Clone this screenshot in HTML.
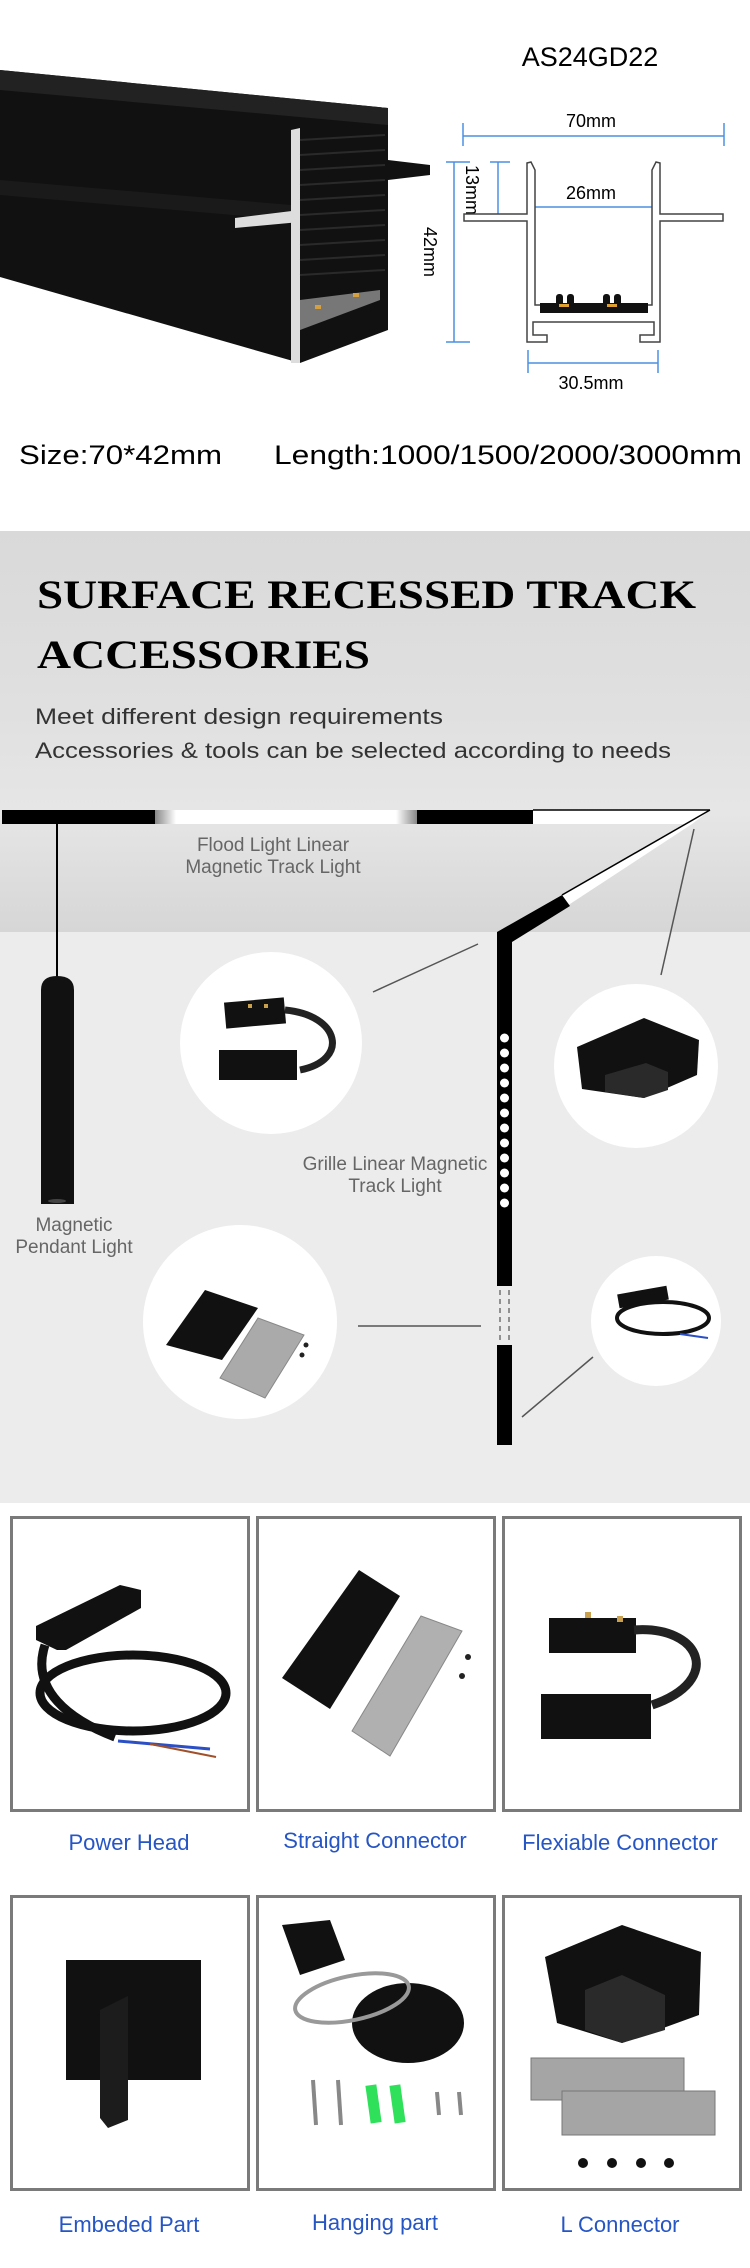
<!DOCTYPE html>
<html><head><meta charset="utf-8"><style>
html,body{margin:0;padding:0;background:#fff}
svg{display:block}
</style></head><body>
<svg width="750" height="2268" viewBox="0 0 750 2268" xmlns="http://www.w3.org/2000/svg" font-family="Liberation Sans, sans-serif">
<defs>
<linearGradient id="band" x1="0" y1="0" x2="0" y2="1">
<stop offset="0" stop-color="#d9d9d9"/><stop offset="0.45" stop-color="#e0e0e0"/><stop offset="0.7" stop-color="#e6e6e6"/><stop offset="1" stop-color="#d6d6d6"/>
</linearGradient>
<linearGradient id="glow" x1="0" y1="0" x2="1" y2="0">
<stop offset="0" stop-color="#888"/><stop offset="0.08" stop-color="#fff"/><stop offset="0.92" stop-color="#fff"/><stop offset="1" stop-color="#888"/>
</linearGradient>
</defs>
<rect width="750" height="2268" fill="#fff"/>

<!-- top: extrusion photo -->
<polygon points="0,70 388,108 388,330 300,363 0,277" fill="#111"/>
<polygon points="0,70 388,108 388,125 0,90" fill="#222"/>
<polygon points="0,180 291,205 291,220 0,195" fill="#1a1a1a"/>
<polygon points="291,130 300,128 300,363 291,363" fill="#ddd"/>
<g stroke="#2a2a2a" stroke-width="2">
<line x1="300" y1="140" x2="385" y2="135"/><line x1="300" y1="155" x2="385" y2="150"/><line x1="300" y1="170" x2="385" y2="165"/><line x1="300" y1="185" x2="385" y2="180"/><line x1="300" y1="200" x2="385" y2="195"/><line x1="300" y1="215" x2="385" y2="210"/><line x1="300" y1="230" x2="385" y2="225"/><line x1="300" y1="245" x2="385" y2="240"/><line x1="300" y1="260" x2="385" y2="255"/><line x1="300" y1="275" x2="385" y2="270"/>
</g>
<polygon points="388,160 430,165 430,175 388,180" fill="#111"/>
<polygon points="235,218 300,210 300,222 235,228" fill="#ddd"/>
<polygon points="300,300 380,290 380,300 300,330" fill="#777"/>
<rect x="315" y="305" width="6" height="4" fill="#d4a040"/><rect x="353" y="293" width="6" height="4" fill="#d4a040"/>

<!-- cross-section drawing -->
<text x="590" y="66" font-size="27" text-anchor="middle" fill="#000">AS24GD22</text>
<text x="591" y="127" font-size="18" text-anchor="middle" fill="#000">70mm</text>
<g stroke="#4a90e2" stroke-width="1.5" fill="none">
<line x1="463" y1="136" x2="724" y2="136"/><line x1="463" y1="123" x2="463" y2="146"/><line x1="724" y1="123" x2="724" y2="146"/>
<line x1="454" y1="162" x2="454" y2="342"/><line x1="446" y1="162" x2="470" y2="162"/><line x1="446" y1="342" x2="470" y2="342"/>
<line x1="498" y1="162" x2="498" y2="218"/><line x1="490" y1="162" x2="510" y2="162"/>
<line x1="535" y1="207" x2="652" y2="207"/>
<line x1="528" y1="363" x2="658" y2="363"/><line x1="528" y1="350" x2="528" y2="373"/><line x1="658" y1="350" x2="658" y2="373"/>
</g>
<text x="591" y="199" font-size="18" text-anchor="middle">26mm</text>
<text x="591" y="389" font-size="18" text-anchor="middle">30.5mm</text>
<text transform="translate(466,190) rotate(90)" font-size="18" text-anchor="middle">13mm</text>
<text transform="translate(424,252) rotate(90)" font-size="18" text-anchor="middle">42mm</text>
<path d="M464,214 L527,214 L527,163 L531,162 L535,170 L535,214 L535,221 L535,305 L652,305 L652,221 L652,170 L656,162 L660,163 L660,214 L723,214 L723,221 L660,221 L660,342 L640,342 L640,335 L654,335 L654,322 L533,322 L533,335 L547,335 L547,342 L527,342 L527,221 L464,221 Z" fill="#fff" stroke="#444" stroke-width="1.5"/>
<rect x="540" y="303" width="108" height="10" fill="#111"/>
<rect x="556" y="294" width="7" height="12" rx="3" fill="#111"/><rect x="567" y="294" width="7" height="12" rx="3" fill="#111"/>
<rect x="603" y="294" width="7" height="12" rx="3" fill="#111"/><rect x="614" y="294" width="7" height="12" rx="3" fill="#111"/>
<rect x="559" y="304" width="10" height="3" fill="#e0a030"/><rect x="607" y="304" width="10" height="3" fill="#e0a030"/>

<text x="19" y="464" font-size="27" textLength="203" lengthAdjust="spacingAndGlyphs">Size:70*42mm</text>
<text x="274" y="464" font-size="27" textLength="468" lengthAdjust="spacingAndGlyphs">Length:1000/1500/2000/3000mm</text>

<!-- gray section -->
<rect x="0" y="531" width="750" height="401" fill="url(#band)"/>
<rect x="0" y="932" width="750" height="571" fill="#ececec"/>
<text x="37" y="608" font-family="Liberation Serif, serif" font-weight="bold" font-size="40" textLength="659" lengthAdjust="spacingAndGlyphs">SURFACE RECESSED TRACK</text>
<text x="37" y="668" font-family="Liberation Serif, serif" font-weight="bold" font-size="40" textLength="333" lengthAdjust="spacingAndGlyphs">ACCESSORIES</text>
<text x="35" y="724" font-size="22" fill="#333" textLength="408" lengthAdjust="spacingAndGlyphs">Meet different design requirements</text>
<text x="35" y="758" font-size="22" fill="#333" textLength="636" lengthAdjust="spacingAndGlyphs">Accessories &amp; tools can be selected according to needs</text>

<!-- track -->
<rect x="2" y="810" width="153" height="14" fill="#000"/>
<rect x="155" y="810" width="262" height="14" fill="url(#glow)"/>
<rect x="417" y="810" width="116" height="14" fill="#000"/>
<polygon points="533,810 710,810 692,824 533,824" fill="#fff"/>
<polygon points="710,810 497,932 512,942 692,824" fill="#fff"/>
<polygon points="562,895 497,932 512,942 570,906" fill="#000"/>
<line x1="533" y1="810" x2="710" y2="810" stroke="#000" stroke-width="1.5"/>
<line x1="710" y1="810" x2="562" y2="895" stroke="#000" stroke-width="1.5"/>
<rect x="497" y="932" width="15" height="354" fill="#000"/>
<rect x="497" y="1345" width="15" height="100" fill="#000"/>
<line x1="500" y1="1290" x2="500" y2="1342" stroke="#555" stroke-width="1.2" stroke-dasharray="5,4"/>
<line x1="509" y1="1290" x2="509" y2="1342" stroke="#555" stroke-width="1.2" stroke-dasharray="5,4"/>
<g fill="#fff">
<circle cx="504.5" cy="1038" r="4.5"/><circle cx="504.5" cy="1053" r="4.5"/><circle cx="504.5" cy="1068" r="4.5"/><circle cx="504.5" cy="1083" r="4.5"/><circle cx="504.5" cy="1098" r="4.5"/><circle cx="504.5" cy="1113" r="4.5"/><circle cx="504.5" cy="1128" r="4.5"/><circle cx="504.5" cy="1143" r="4.5"/><circle cx="504.5" cy="1158" r="4.5"/><circle cx="504.5" cy="1173" r="4.5"/><circle cx="504.5" cy="1188" r="4.5"/><circle cx="504.5" cy="1203" r="4.5"/>
</g>
<!-- pendant -->
<line x1="57" y1="824" x2="57" y2="978" stroke="#000" stroke-width="2"/>
<path d="M41,990 Q41,976 57,976 Q74,976 74,990 L74,1204 L41,1204 Z" fill="#111"/>
<ellipse cx="57" cy="1201" rx="9" ry="2" fill="#444"/>

<!-- labels -->
<g font-size="19" fill="#666" text-anchor="middle">
<text x="273" y="851">Flood Light Linear</text>
<text x="273" y="873">Magnetic Track Light</text>
<text x="395" y="1170">Grille Linear Magnetic</text>
<text x="395" y="1192">Track Light</text>
<text x="74" y="1231">Magnetic</text>
<text x="74" y="1253">Pendant Light</text>
</g>

<!-- connector lines -->
<g stroke="#555" stroke-width="1.5">
<line x1="478" y1="944" x2="373" y2="992"/>
<line x1="694" y1="829" x2="661" y2="975"/>
<line x1="358" y1="1326" x2="481" y2="1326"/>
<line x1="593" y1="1357" x2="522" y2="1417"/>
</g>

<!-- circles -->
<circle cx="271" cy="1043" r="91" fill="#fff"/>
<rect x="225" y="1000" width="60" height="26" fill="#111" transform="rotate(-5 255 1013)"/>
<rect x="219" y="1050" width="78" height="30" fill="#111"/>
<path d="M285,1010 C340,1015 350,1060 300,1070" stroke="#222" stroke-width="7" fill="none"/>
<rect x="248" y="1004" width="4" height="4" fill="#c8a050"/><rect x="264" y="1004" width="4" height="4" fill="#c8a050"/>

<circle cx="636" cy="1066" r="82" fill="#fff"/>
<polygon points="577,1047 644,1018 699,1040 697,1075 644,1098 582,1089" fill="#111"/>
<polygon points="605,1075 646,1063 668,1072 668,1090 644,1098 605,1092" fill="#2a2a2a"/>

<circle cx="240" cy="1322" r="97" fill="#fff"/>
<polygon points="166,1345 205,1290 258,1308 222,1360" fill="#111"/>
<polygon points="220,1378 258,1318 304,1335 265,1398" fill="#aaa" stroke="#888"/>
<circle cx="306" cy="1345" r="2.5" fill="#222"/><circle cx="302" cy="1355" r="2.5" fill="#222"/>

<circle cx="656" cy="1321" r="65" fill="#fff"/>
<rect x="618" y="1290" width="50" height="14" fill="#111" transform="rotate(-10 643 1297)"/>
<ellipse cx="663" cy="1318" rx="46" ry="16" fill="none" stroke="#111" stroke-width="4"/>
<line x1="680" y1="1334" x2="708" y2="1338" stroke="#2b4fc4" stroke-width="2"/>

<!-- product grid -->
<g fill="#fff" stroke="#7a7a7a" stroke-width="3">
<rect x="11.5" y="1517.5" width="237" height="293"/>
<rect x="257.5" y="1517.5" width="237" height="293"/>
<rect x="503.5" y="1517.5" width="237" height="293"/>
<rect x="11.5" y="1896.5" width="237" height="293"/>
<rect x="257.5" y="1896.5" width="237" height="293"/>
<rect x="503.5" y="1896.5" width="237" height="293"/>
</g>
<!-- power head -->
<polygon points="36,1626 120,1585 141,1590 141,1608 66,1650 57,1650 36,1640" fill="#111"/>
<ellipse cx="133" cy="1693" rx="93" ry="38" fill="none" stroke="#111" stroke-width="9"/>
<path d="M45,1645 C30,1690 70,1720 115,1737" stroke="#111" stroke-width="9" fill="none"/>
<line x1="118" y1="1741" x2="210" y2="1749" stroke="#2b4fc4" stroke-width="3"/>
<line x1="150" y1="1744" x2="216" y2="1757" stroke="#a0502a" stroke-width="2"/>
<!-- straight connector -->
<polygon points="282,1678 359,1570 400,1596 330,1709" fill="#111"/>
<polygon points="352,1731 421,1616 462,1631 390,1756" fill="#b0b0b0" stroke="#888"/>
<circle cx="468" cy="1657" r="3" fill="#222"/><circle cx="462" cy="1676" r="3" fill="#222"/>
<!-- flexible -->
<rect x="549" y="1618" width="87" height="35" fill="#111"/>
<rect x="541" y="1694" width="110" height="45" fill="#111"/>
<path d="M634,1630 C700,1625 725,1680 652,1705" stroke="#222" stroke-width="9" fill="none"/>
<rect x="585" y="1612" width="6" height="6" fill="#c8a050"/><rect x="617" y="1616" width="6" height="6" fill="#c8a050"/>
<!-- embedded -->
<rect x="66" y="1960" width="135" height="120" fill="#111"/>
<polygon points="100,2010 128,1996 128,2120 108,2128 100,2118" fill="#1c1c1c"/>
<!-- hanging -->
<ellipse cx="408" cy="2023" rx="56" ry="40" fill="#111"/>
<polygon points="282,1925 330,1920 345,1960 300,1975" fill="#111"/>
<ellipse cx="352" cy="1998" rx="58" ry="22" fill="none" stroke="#999" stroke-width="4" transform="rotate(-12 352 1998)"/>
<g stroke="#888" stroke-width="4"><line x1="313" y1="2080" x2="316" y2="2125"/><line x1="338" y1="2080" x2="341" y2="2125"/><line x1="437" y1="2092" x2="439" y2="2115"/><line x1="459" y1="2092" x2="461" y2="2115"/></g>
<rect x="368" y="2085" width="11" height="38" fill="#2ee05a" transform="rotate(-8 373 2104)"/>
<rect x="392" y="2085" width="11" height="38" fill="#2ee05a" transform="rotate(-8 397 2104)"/>
<!-- L connector -->
<polygon points="545,1957 622,1925 701,1952 699,2015 622,2043 557,2023" fill="#111"/>
<polygon points="585,1990 622,1975 665,1995 665,2030 622,2043 585,2030" fill="#2a2a2a"/>
<rect x="531" y="2058" width="153" height="42" fill="#a5a5a5" stroke="#777"/>
<rect x="562" y="2091" width="153" height="44" fill="#a5a5a5" stroke="#777"/>
<g fill="#111"><circle cx="583" cy="2163" r="5"/><circle cx="612" cy="2163" r="5"/><circle cx="641" cy="2163" r="5"/><circle cx="669" cy="2163" r="5"/></g>

<g font-size="22" fill="#2655c4" text-anchor="middle">
<text x="129" y="1850">Power Head</text>
<text x="375" y="1848">Straight Connector</text>
<text x="620" y="1850">Flexiable Connector</text>
<text x="129" y="2232">Embeded Part</text>
<text x="375" y="2230">Hanging part</text>
<text x="620" y="2232">L Connector</text>
</g>
</svg>
</body></html>
